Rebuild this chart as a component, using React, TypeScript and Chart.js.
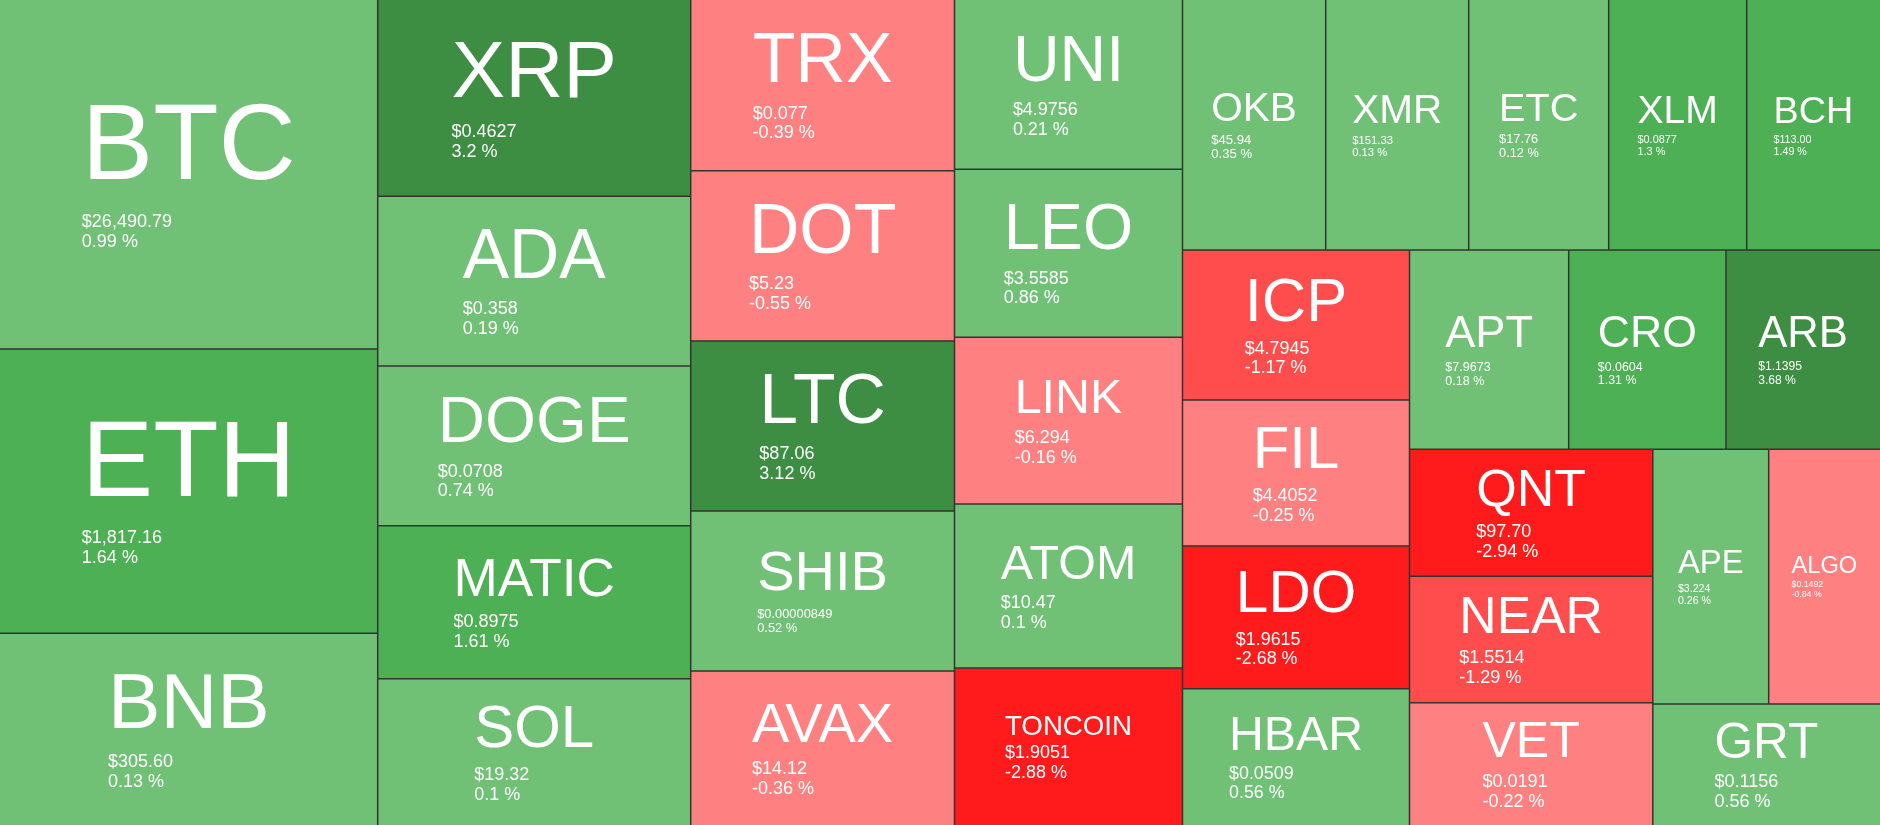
import React, { useEffect, useRef } from 'react';
import { Chart, DatasetController, Element, LinearScale } from 'chart.js';

// ---- Data ----
const symbols = ['BTC', 'ETH', 'BNB', 'XRP', 'ADA', 'DOGE', 'MATIC', 'SOL', 'TRX', 'DOT', 'LTC', 'SHIB', 'AVAX', 'UNI', 'LEO', 'LINK', 'ATOM', 'TONCOIN', 'OKB', 'XMR', 'ETC', 'XLM', 'BCH', 'ICP', 'FIL', 'LDO', 'HBAR', 'APT', 'CRO', 'ARB', 'QNT', 'NEAR', 'VET', 'APE', 'ALGO', 'GRT'];

const prices = ['$26,490.79', '$1,817.16', '$305.60', '$0.4627', '$0.358', '$0.0708', '$0.8975', '$19.32', '$0.077', '$5.23', '$87.06', '$0.00000849', '$14.12', '$4.9756', '$3.5585', '$6.294', '$10.47', '$1.9051', '$45.94', '$151.33', '$17.76', '$0.0877', '$113.00', '$4.7945', '$4.4052', '$1.9615', '$0.0509', '$7.9673', '$0.0604', '$1.1395', '$97.70', '$1.5514', '$0.0191', '$3.224', '$0.1492', '$0.1156'];

const changes = [0.99, 1.64, 0.13, 3.2, 0.19, 0.74, 1.61, 0.1, -0.39, -0.55, 3.12, 0.52, -0.36, 0.21, 0.86, -0.16, 0.1, -2.88, 0.35, 0.13, 0.12, 1.3, 1.49, -1.17, -0.25, -2.68, 0.56, 0.18, 1.31, 3.68, -2.94, -1.29, -0.22, 0.26, -0.84, 0.56];

// relative tile weights (area units)
const weights = [131817, 107380, 72405, 61442, 53116, 49986, 47889, 45792, 45031, 44925, 44846, 42208, 40625, 38600, 38304, 38008, 37392, 35796, 35800, 35750, 35000, 34500, 33325, 34050, 33142, 32393, 30940, 31729, 31350, 30692, 30899, 30753, 29756, 29520, 28348, 27491];

const FONT = '"Liberation Sans", Arial, Helvetica, sans-serif';
const PHI = (1 + Math.sqrt(5)) / 2;

function cellColor(c: number) {
  if (c >= 3) return '#3d8d42';
  if (c >= 1) return '#4eb054';
  if (c >= 0) return '#70c176';
  if (c > -1) return '#ff8080';
  if (c > -2) return '#ff4d4d';
  return '#ff1b1b';
}

// squarified treemap layout (golden-ratio variant)
function squarify(values: number[], x0: number, y0: number, x1: number, y1: number) {
  const out: any[] = new Array(values.length);
  const n = values.length;
  let value = values.reduce((a, b) => a + b, 0);
  let i0 = 0;
  let i1 = 0;
  while (i0 < n) {
    const dx = x1 - x0;
    const dy = y1 - y0;
    let sumValue = values[i1++];
    let minValue = sumValue;
    let maxValue = sumValue;
    const alpha = Math.max(dy / dx, dx / dy) / (value * PHI);
    let beta = sumValue * sumValue * alpha;
    let minRatio = Math.max(maxValue / beta, beta / minValue);
    for (; i1 < n; ++i1) {
      const v = values[i1];
      sumValue += v;
      if (v < minValue) minValue = v;
      if (v > maxValue) maxValue = v;
      beta = sumValue * sumValue * alpha;
      const newRatio = Math.max(maxValue / beta, beta / minValue);
      if (newRatio > minRatio) {
        sumValue -= v;
        break;
      }
      minRatio = newRatio;
    }
    if (dx < dy) {
      const yEnd = i1 >= n ? y1 : y0 + (dy * sumValue) / value;
      let x = x0;
      for (let i = i0; i < i1; i++) {
        const w = ((x1 - x0) * values[i]) / sumValue;
        out[i] = { x0: x, y0, x1: i === i1 - 1 ? x1 : x + w, y1: yEnd };
        x += w;
      }
      y0 = yEnd;
    } else {
      const xEnd = i1 >= n ? x1 : x0 + (dx * sumValue) / value;
      let y = y0;
      for (let i = i0; i < i1; i++) {
        const h = ((y1 - y0) * values[i]) / sumValue;
        out[i] = { x0, y0: y, x1: xEnd, y1: i === i1 - 1 ? y1 : y + h };
        y += h;
      }
      x0 = xEnd;
    }
    value -= sumValue;
    i0 = i1;
  }
  return out;
}

class TreemapCell extends Element {
  static id = 'treemapCell';
  static defaults = {};

  draw(ctx: CanvasRenderingContext2D, area: any) {
    const me: any = this;
    const { x0, y0, x1, y1 } = me;
    const w = x1 - x0;
    const h = y1 - y0;
    ctx.save();
    ctx.fillStyle = me.color;
    ctx.fillRect(x0, y0, w, h);

    ctx.strokeStyle = '#333333';
    ctx.lineWidth = 1.5;
    ctx.beginPath();
    if (x0 > area.left + 1) {
      ctx.moveTo(x0, y0);
      ctx.lineTo(x0, y1);
    }
    if (y0 > area.top + 1) {
      ctx.moveTo(x0, y0);
      ctx.lineTo(x1, y0);
    }
    ctx.stroke();

    const sym: string = me.symbol;
    const S = Math.min((0.85 * w) / sym.length, 0.41 * h);
    ctx.font = `${S}px ${FONT}`;
    const tw = ctx.measureText(sym).width;
    ctx.font = `18px ${FONT}`;
    const pw = Math.max(ctx.measureText(me.price).width, ctx.measureText(me.change).width);
    const P = Math.min(18, (18 * 0.285 * w) / pw);
    const gap1 = 0.317 * S + 0.77 * P;
    const gap2 = 1.1 * P;
    const blockH = 0.716 * S + gap1 + gap2;
    const cy = (y0 + y1) / 2;
    const base = cy - blockH / 2 + 0.716 * S;
    const left = (x0 + x1) / 2 - tw / 2;

    ctx.fillStyle = '#ffffff';
    ctx.textAlign = 'left';
    ctx.textBaseline = 'alphabetic';
    ctx.font = `${S}px ${FONT}`;
    ctx.fillText(sym, left, base);
    ctx.font = `${P}px ${FONT}`;
    ctx.fillText(me.price, left, base + gap1);
    ctx.fillText(me.change, left, base + gap1 + gap2);
    ctx.restore();
  }

  inRange() {
    return false;
  }
}

class TreemapController extends DatasetController {
  static id = 'treemapTiles';
  static defaults = { datasetElementType: false, dataElementType: 'treemapCell' };
  static overrides = {
    scales: {
      x: { type: 'linear', display: false, min: 0, max: 1 },
      y: { type: 'linear', display: false, min: 0, max: 1 },
    },
  };

  parse(start: number, count: number) {
    const meta: any = (this as any)._cachedMeta;
    const data = (this as any).getDataset().data as number[];
    for (let i = start; i < start + count; i++) {
      meta._parsed[i] = { x: i, y: data[i] };
    }
  }

  getMinMax() {
    return { min: 0, max: 1 };
  }

  update() {
    const meta: any = (this as any)._cachedMeta;
    const ds: any = (this as any).getDataset();
    const xs = meta.xScale;
    const ys = meta.yScale;
    const rects = squarify(
      ds.data,
      xs.getPixelForValue(0),
      ys.getPixelForValue(1),
      xs.getPixelForValue(1),
      ys.getPixelForValue(0)
    );
    const labels: any = (this as any).chart.data.labels;
    meta.data.forEach((el: any, i: number) => {
      const r = rects[i];
      Object.assign(el, {
        x0: r.x0,
        y0: r.y0,
        x1: r.x1,
        y1: r.y1,
        x: (r.x0 + r.x1) / 2,
        y: (r.y0 + r.y1) / 2,
        color: cellColor(ds.changes[i]),
        symbol: labels[i],
        price: ds.prices[i],
        change: `${ds.changes[i]} %`,
      });
    });
  }
}

Chart.register(LinearScale, TreemapCell as any, TreemapController as any);

export default function App() {
  const ref = useRef<HTMLCanvasElement>(null);

  useEffect(() => {
    document.body.style.margin = '0';
    const chart = new Chart(ref.current as HTMLCanvasElement, {
      type: 'treemapTiles' as any,
      data: {
        labels: symbols,
        datasets: [
          {
            data: weights,
            prices,
            changes,
          } as any,
        ],
      },
      options: {
        animation: false,
        responsive: false,
        maintainAspectRatio: false,
        events: [],
        layout: { padding: 0 },
        scales: {
          x: { type: 'linear', display: false, min: 0, max: 1 },
          y: { type: 'linear', display: false, min: 0, max: 1 },
        },
        plugins: { legend: { display: false }, tooltip: { enabled: false } } as any,
      } as any,
    });
    return () => chart.destroy();
  }, []);

  return (
    <div style={{ position: 'fixed', left: 0, top: 0, width: 1880, height: 825 }}>
      <canvas ref={ref} width={1880} height={825} style={{ display: 'block', width: 1880, height: 825 }} />
    </div>
  );
}
